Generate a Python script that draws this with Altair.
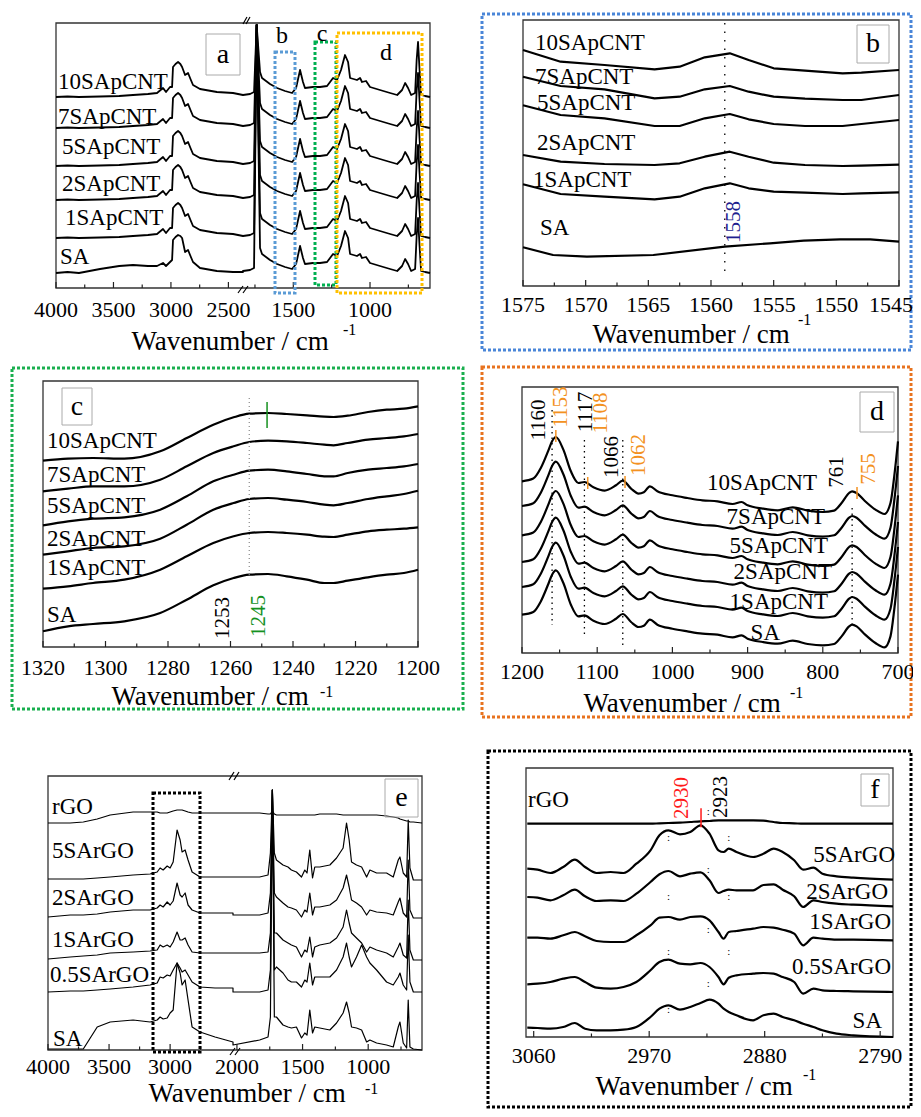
import altair as alt
import pandas as pd

FONT = "Liberation Serif, Times New Roman, serif"

# ================= Panel a : SA / SApCNT, full range (broken axis) =================
A_SERIES = ["SA", "1SApCNT", "2SApCNT", "5SApCNT", "7SApCNT", "10SApCNT"]
A_OFFSET = [15, 50, 88, 122, 160, 191]
A_LEFT_WN = [4000, 3900, 3800, 3617, 3450, 3330, 3200, 3121, 3069, 3043, 3008, 2990, 2982,
             2960, 2938, 2918, 2903, 2877, 2851, 2830, 2808, 2747, 2600, 2460, 2373]
A_LEFT_CNT = [0, 0.5, 0, 0.5, 1, 2, 3, 4, 9, 5, 10, 10, 30, 33, 35, 33, 30, 22, 24, 18, 12, 8, 5, 4, 2]
A_LEFT_SA = [0, 1, 0, 4, 7, 8, 7, 7, 10, 7, 11, 13, 33, 36, 38, 37, 35, 21, 23, 17, 11, 5, 2, 1, 1]
A_RIGHT_WN = [1828, 1782, 1756, 1717, 1704, 1652, 1606, 1554, 1508, 1482, 1456, 1437, 1424, 1372,
              1326, 1280, 1241, 1215, 1189, 1163, 1143, 1130, 1085, 1065, 1052, 1026, 1000, 935,
              869, 823, 791, 771, 752, 732, 706, 696, 687, 677, 667, 641, 609]
A_RIGHT = [2, 3, 5, 25, 19, 13, 9, 6, 4, 9, 27, 15, 9, 10, 10, 11, 19, 17, 27, 42, 35, 19, 17, 19,
           15, 16, 10, 7, 4, 2, 7, 14, 9, 2, 4, 37, 55, 27, 2, 1, 0]
A_CO_WN = 1739
A_CO_PEAK = [248, 213, 175, 141, 103, 72]
A_TICKS = [4000, 3500, 3000, 2500, 1500, 1000]
A_MINOR = [3750, 3250, 2750, 1750, 1250, 750]

# ================= Panel b : 1575-1545 =================
B_WN = [1575, 1572, 1568.5, 1564.5, 1562.5, 1560.5, 1558.5, 1557, 1555, 1552.5, 1549.5, 1548, 1545]
B_10SAPCNT = [236, 224.3, 221, 216.7, 219.3, 228.7, 232.7, 226, 217.7, 215.3, 212.7, 213.3, 216]
B_7SAPCNT = [209.3, 200, 196.7, 187.7, 189.3, 196.7, 200, 194.3, 189.3, 187.3, 186, 186, 191]
B_5SAPCNT = [180.7, 171, 167.7, 160, 160, 167.7, 172, 166.7, 162, 160, 160, 162, 166]
B_2SAPCNT = [131, 124.3, 122, 121, 122.7, 129.3, 134.3, 129.3, 123.3, 121, 120, 120.3, 121.3]
B_1SAPCNT = [101.7, 92, 89.3, 86.7, 89.3, 97.7, 102.7, 97.7, 94.3, 93.3, 92, 92.7, 93.7]
B_SA_WN = [1575, 1572.6, 1569.9, 1564.6, 1558.9, 1555.3, 1552.6, 1549.7, 1547.3, 1545]
B_SA = [38.7, 31, 29.3, 31, 39.3, 42.7, 45.3, 46.7, 46.7, 44.3]
B_GUIDE_WN = [1558.9]
B_GUIDE_H = [263, 13]
B_TICKS = [1575, 1570, 1565, 1560, 1555, 1550, 1545]
B_MINOR = [1572.5, 1567.5, 1562.5, 1557.5, 1552.5, 1547.5]

# ================= Panel c : 1320-1200 =================
C_WN = [1320, 1312, 1304, 1294, 1282.5, 1274, 1265.5, 1259, 1254, 1248, 1242, 1235.5, 1230,
        1227, 1222.5, 1216, 1210, 1204.5, 1200]
C_10SAPCNT = [186.3, 188.3, 189, 188.3, 195.7, 209, 222.3, 229.7, 233.3, 234, 233, 231.7, 230.3,
              230, 231.3, 235, 237.3, 238.3, 240.7]
C_7SAPCNT = [155.7, 158.3, 160.7, 160.7, 167.3, 180.7, 194, 200.7, 205, 206.3, 205.7, 204, 202.3,
             201.7, 204, 207.3, 209, 210.7, 213]
C_5SAPCNT = [121.7, 125.7, 128.3, 129.7, 137.3, 150.7, 165.7, 172.3, 176.3, 177.3, 175.7, 173,
             170.7, 170.7, 174, 177.3, 179, 180.7, 183]
C_2SAPCNT = [92.3, 95.7, 99, 100.7, 108.3, 122.3, 137.3, 144, 148, 149, 147.3, 145, 142.3, 141.7,
             144, 148, 150.7, 153, 156.3]
C_1SAPCNT = [58.3, 60.7, 64, 67.3, 77.3, 90.7, 104, 110.7, 114, 115, 114, 112.3, 110.3, 110,
             112.3, 115.7, 117.3, 118.3, 119.7]
C_SA = [15.7, 20.7, 23, 25.7, 34, 47.3, 61.7, 69, 72.3, 73, 70.7, 67.3, 64, 64, 66.3, 69.7, 72.3,
        74, 77.3]
C_GUIDE_WN = [1254]
C_GUIDE_H = [249, 72]
C_MARK_WN = [1248.3]
C_MARK_H = [219, 245]
C_TICKS = [1320, 1300, 1280, 1260, 1240, 1220, 1200]
C_MINOR = [1310, 1290, 1270, 1250, 1230, 1210]

# ================= Panel d : 1200-700 =================
D_SERIES = ["SA", "1SApCNT", "2SApCNT", "5SApCNT", "7SApCNT", "10SApCNT"]
D_OFFSET = [38.3, 66, 91, 117.7, 147, 171.7]
D_WN = [1200, 1185, 1175, 1165, 1160, 1155, 1145, 1135, 1125, 1117, 1105, 1090, 1075, 1066, 1055,
        1045, 1038, 1030, 1020, 1000, 980, 960, 940, 920, 908, 900, 880, 860, 840, 820, 800, 785,
        775, 765, 761, 755, 745, 730, 718, 710, 705, 700]
D_PROFILE = [0, 2.7, 13.3, 30.7, 40, 44.3, 31.7, 10, -1.7, -0.7, -6, -9.3, -4, 0.7, -7.3, -12.3,
             -11, -5, -10, -14, -16.7, -19, -20, -22.7, -20.7, -24, -27.3, -29, -26, -29.3, -30.7,
             -29.3, -21.7, -11.7, -10, -11.7, -19, -28.3, -32.7, -21.7, 5, 40]
D_GUIDE_WN = [1160, 1117, 1066, 761]
D_GUIDE_H0 = [243, 213, 213, 145]
D_GUIDE_H1 = [28, 18, 8, 25]
D_MARK_WN = [1155, 1112.6, 1063, 754.5]
D_MARK_H0 = [211, 164, 165, 154]
D_MARK_H1 = [223, 176, 177, 166]
D_TICKS = [1200, 1100, 1000, 900, 800, 700]
D_MINOR = [1150, 1050, 950, 850, 750]

# ================= Panel e : SA / SArGO full range (broken axis) =================
E_WN = [4000, 3818, 3711, 3597, 3491, 3303, 3164, 3106, 3082, 3057, 3024, 3000, 2975, 2943, 2918,
        2902, 2877, 2853, 2820, 2755, 2632, 2485,
        2030, 1827, 1763, 1745, 1730, 1715, 1699, 1649, 1611, 1585, 1547, 1508, 1483, 1466, 1445,
        1424, 1407, 1369, 1292, 1241, 1191, 1165, 1145, 1127, 1089, 1050, 1012, 987, 936, 860,
        809, 771, 758, 733, 707, 695, 682, 656, 590]
E_RGO = [227, 227, 228, 231, 235, 238, 238, 238, 237, 237, 237, 238, 239, 240, 240, 240, 239, 238,
         237, 237, 237, 237,
         237, 237, 236, 236, 239, 236, 235, 235, 235, 235, 235, 235, 235, 235, 235, 235, 235, 236,
         236, 236, 235, 235, 235, 235, 235, 235, 235, 235, 235, 234, 233, 232, 231, 230, 229, 229,
         228, 228, 227]
E_5SARGO = [171, 171, 171, 172, 173, 175, 176, 178, 182, 180, 184, 182, 188, 220, 210, 198, 200,
            190, 178, 173, 173, 173,
            173, 173, 175, 197, 260, 197, 190, 185, 183, 180, 178, 173, 180, 177, 200, 172, 183,
            183, 185, 192, 202, 227, 210, 188, 185, 183, 173, 180, 177, 177, 173, 190, 193, 177,
            173, 230, 182, 170, 170]
E_2SARGO = [133, 135, 135, 136, 138, 140, 140, 142, 145, 143, 148, 145, 149, 167, 155, 153, 157,
            145, 140, 137, 137, 137,
            135, 135, 137, 157, 260, 157, 153, 147, 143, 142, 140, 133, 140, 138, 157, 135, 143,
            143, 145, 150, 162, 175, 163, 150, 147, 143, 135, 140, 138, 137, 135, 148, 152, 137,
            133, 190, 140, 132, 132]
E_1SARGO = [91, 93, 94, 95, 97, 98, 99, 100, 105, 103, 105, 103, 108, 118, 110, 110, 112, 105, 98,
            97, 97, 97,
            97, 97, 98, 117, 260, 117, 117, 110, 107, 105, 103, 93, 100, 98, 113, 93, 103, 105,
            107, 112, 123, 140, 127, 117, 112, 107, 98, 103, 100, 97, 93, 103, 107, 95, 92, 150,
            100, 90, 90]
E_05SARGO = [58, 59, 59, 60, 61, 63, 65, 67, 73, 72, 75, 74, 80, 87, 82, 78, 80, 75, 68, 63, 62, 62,
             58, 58, 60, 80, 260, 80, 83, 77, 70, 68, 68, 63, 70, 68, 87, 65, 73, 73, 73, 80, 93,
             107, 93, 83, 93, 105, 93, 87, 80, 68, 65, 73, 77, 65, 60, 115, 68, 58, 58]
E_SA = [1, 1, 1, 23, 28, 30, 28, 30, 33, 31, 32, 37, 40, 87, 77, 65, 70, 50, 23, 18, 13, 8,
        5, 10, 13, 33, 260, 33, 33, 25, 23, 22, 23, 12, 17, 15, 40, 17, 23, 22, 20, 27, 37, 48,
        37, 23, 22, 20, 8, 10, 7, 5, 3, 23, 28, 7, 2, 50, 3, 1, 0]
E_TICKS = [4000, 3500, 3000, 2000, 1500, 1000]
E_MINOR = [3750, 3250, 2750, 1750, 1250, 750]

# ================= Panel f : 3065-2780 =================
F_WN = [3065, 3057, 3047, 3037, 3028, 3020, 3011, 3000, 2990, 2980, 2969, 2962, 2955, 2946, 2938,
        2930, 2923, 2916, 2912, 2908, 2902, 2889, 2881, 2873, 2866, 2857, 2850, 2842, 2835, 2824,
        2811, 2780]
F_RGO = [213.3, 213.3, 213.3, 213.3, 213.3, 213.3, 213.3, 213.3, 213.3, 213.3, 213.3, 213.7, 214,
         214.3, 215, 215.7, 216, 216.7, 216.7, 216.7, 216.7, 216.7, 216.3, 215, 214, 213.7, 213.3,
         213.3, 213.3, 213.3, 213.3, 213.3]
F_5SARGO = [168.3, 167.3, 164, 170, 177.3, 170, 164, 165, 164, 173.3, 186.7, 201.7, 206.7, 202.7,
            205, 211.7, 203.3, 186.7, 185, 188.3, 185, 180, 183.3, 188.3, 185, 176.7, 167.3, 169.3,
            163.3, 160.7, 159.3, 157.3]
F_2SARGO = [140, 139.3, 136.7, 141.7, 147.3, 140.7, 136, 136.7, 136, 143.3, 155, 162.7, 166, 160.7,
            163.3, 164.7, 156.7, 144, 146, 147.3, 146.7, 146.7, 152, 152.7, 147.3, 140.7, 130,
            136.7, 135, 133.3, 132.3, 130.7]
F_1SARGO = [99.3, 99.3, 98.3, 101.7, 105, 100.7, 96, 95, 95, 101.7, 111.7, 119.3, 120, 117.3, 120,
            120.7, 116.7, 105, 98.3, 105, 106, 108.3, 110, 109.3, 107.3, 103.3, 91.7, 99.3, 98.3,
            97.3, 97.3, 96.7]
F_05SARGO = [52.7, 53.3, 55, 58.3, 60, 55, 49.3, 48.3, 50, 55, 66.7, 75, 77.3, 73.3, 72.7, 74, 70,
             60, 52.7, 59.3, 61.7, 63.3, 64, 63.3, 60, 55, 43.3, 48.3, 46.7, 46, 45.7, 45]
F_SA = [9.3, 9, 8.3, 10, 14, 8.3, 6.7, 6.7, 7.3, 10, 20, 28.3, 31.7, 27.3, 30, 34, 37.3, 33.3, 28.3,
        25, 21.7, 16.7, 21.7, 23.3, 20, 16.7, 13.3, 10, 6.7, 3.3, 1.7, 0]
F_DOT_WN = [2924, 2955, 2908, 2924, 2955, 2908, 2924, 2955, 2908, 2924, 2955]
F_DOT_H = [225, 199, 199, 167, 140, 140, 107, 85, 85, 53, 27]
F_MARK_WN = [2929.6]
F_MARK_H = [209.7, 228.7]
F_TICKS = [3060, 2970, 2880, 2790]
F_MINOR = [3015, 2925, 2835]


# ---------------------------------------------------------------------------
def long_df(wn, series):
    rows = []
    for name, vals in series.items():
        for w, v in zip(wn, vals):
            rows.append({"series": name, "wn": w, "h": v})
    return pd.DataFrame(rows)


ONE = pd.DataFrame({"k": [0]})


def label(t, x, y, size=23, color="black", align="left", angle=0, baseline="middle"):
    mk = dict(font=FONT, fontSize=size, color=color, align=align, baseline=baseline)
    if angle:
        mk["angle"] = angle
    return alt.Chart(ONE).mark_text(**mk).encode(
        x=alt.value(x), y=alt.value(y), text=alt.value(t))


def box(x0, y0, x1, y1, color, sw=1.0, dash=None):
    mk = dict(fill="transparent", stroke=color, strokeWidth=sw)
    if dash:
        mk["strokeDash"] = dash
    return alt.Chart(ONE).mark_rect(**mk).encode(
        x=alt.value(x0), x2=alt.value(x1), y=alt.value(y0), y2=alt.value(y1))


def seg(x0, y0, x1, y1, color="black", sw=1.2):
    return alt.Chart(ONE).mark_rule(color=color, strokeWidth=sw).encode(
        x=alt.value(x0), x2=alt.value(x1), y=alt.value(y0), y2=alt.value(y1))


def vrules(wn, h0, h1, xs, ys, color, sw, dash=None):
    df = pd.DataFrame({"wn": wn, "h0": h0, "h1": h1})
    mk = dict(color=color, strokeWidth=sw)
    if dash:
        mk["strokeDash"] = dash
    return alt.Chart(df).mark_rule(**mk).encode(
        x=alt.X("wn:Q", scale=xs, axis=None),
        y=alt.Y("h0:Q", scale=ys, axis=None),
        y2="h1:Q")


def panel(df, xs, ys, sw, interp, ticks, minor, bottom, label_y, extras=(), edge_label=None):
    def X():
        return alt.X("wn:Q", scale=xs, axis=None)
    lines = alt.Chart(df).mark_line(color="black", strokeWidth=sw, interpolate=interp,
                                    strokeJoin="round").encode(
        x=X(), y=alt.Y("h:Q", scale=ys, axis=None), detail="series:N")
    tdf = pd.DataFrame({"wn": ticks, "lab": [str(t) for t in ticks]})
    major = alt.Chart(tdf).mark_rule(color="#222", strokeWidth=1.2).encode(
        x=X(), y=alt.value(bottom), y2=alt.value(bottom - 6))
    mdf = pd.DataFrame({"wn": minor})
    minr = alt.Chart(mdf).mark_rule(color="#222", strokeWidth=1.2).encode(
        x=X(), y=alt.value(bottom), y2=alt.value(bottom - 3.5))
    ldf = tdf if edge_label is None else tdf[tdf["wn"] != edge_label]
    labs = alt.Chart(ldf).mark_text(font=FONT, fontSize=22, baseline="middle",
                                    color="black").encode(
        x=X(), y=alt.value(label_y), text="lab:N")
    out = [lines, major, minr, labs]
    if edge_label is not None:
        edf = tdf[tdf["wn"] == edge_label]
        out.append(alt.Chart(edf).mark_text(font=FONT, fontSize=22, baseline="middle",
                                            align="right", color="black").encode(
            x=alt.value(905), y=alt.value(label_y), text="lab:N"))
    return alt.layer(*out, *extras)


def title(cx, base, sx, sy):
    return [label("Wavenumber / cm", cx, base, size=27, align="center", baseline="alphabetic"),
            label("-1", sx, sy, size=16, align="left")]


# ---------------- build data frames ----------------
rows = []
for s, off, co in zip(A_SERIES, A_OFFSET, A_CO_PEAK):
    left = A_LEFT_SA if s == "SA" else A_LEFT_CNT
    for w, v in zip(A_LEFT_WN, left):
        rows.append({"series": s, "wn": w, "h": off + v})
    for w, v in zip(A_RIGHT_WN, A_RIGHT):
        rows.append({"series": s, "wn": w, "h": off + v})
    rows.append({"series": s, "wn": A_CO_WN, "h": off + co})
a_df = pd.DataFrame(rows)

b_df = pd.concat([
    long_df(B_WN, {"10SApCNT": B_10SAPCNT, "7SApCNT": B_7SAPCNT, "5SApCNT": B_5SAPCNT,
                   "2SApCNT": B_2SAPCNT, "1SApCNT": B_1SAPCNT}),
    long_df(B_SA_WN, {"SA": B_SA})], ignore_index=True)

c_df = long_df(C_WN, {"10SApCNT": C_10SAPCNT, "7SApCNT": C_7SAPCNT, "5SApCNT": C_5SAPCNT,
                      "2SApCNT": C_2SAPCNT, "1SApCNT": C_1SAPCNT, "SA": C_SA})

rows = []
for s, off in zip(D_SERIES, D_OFFSET):
    for w, v in zip(D_WN, D_PROFILE):
        rows.append({"series": s, "wn": w, "h": off + v})
d_df = pd.DataFrame(rows)

e_df = long_df(E_WN, {"rGO": E_RGO, "5SArGO": E_5SARGO, "2SArGO": E_2SARGO, "1SArGO": E_1SARGO,
                      "0.5SArGO": E_05SARGO, "SA": E_SA})
f_df = long_df(F_WN, {"rGO": F_RGO, "5SArGO": F_5SARGO, "2SArGO": F_2SARGO, "1SArGO": F_1SARGO,
                      "0.5SArGO": F_05SARGO, "SA": F_SA})

# ---------------- scales (pixel ranges place each panel) ----------------
A_X = alt.Scale(domain=[4000, 2373, 1828, 609], range=[48, 235, 235, 422], nice=False, zero=False)
A_Y = alt.Scale(domain=[0, 265], range=[280, 15], nice=False, zero=False)
B_X = alt.Scale(domain=[1575, 1545], range=[515, 891], nice=False, zero=False)
B_Y = alt.Scale(domain=[0, 266], range=[278, 12], nice=False, zero=False)
C_X = alt.Scale(domain=[1320, 1200], range=[35, 410], nice=False, zero=False)
C_Y = alt.Scale(domain=[0, 266], range=[639, 373], nice=False, zero=False)
D_X = alt.Scale(domain=[1200, 700], range=[514, 890], nice=False, zero=False)
D_Y = alt.Scale(domain=[0, 266], range=[645, 379], nice=False, zero=False)
E_X = alt.Scale(domain=[4000, 2485, 2030, 590], range=[40, 225, 225, 414], nice=False, zero=False)
E_Y = alt.Scale(domain=[0, 274], range=[1042, 768], nice=False, zero=False)
F_X = alt.Scale(domain=[3066, 2780], range=[518, 885], nice=False, zero=False)
F_Y = alt.Scale(domain=[0, 269], range=[1029, 760], nice=False, zero=False)

ORANGE = "#f39121"

layers = []
# dotted panel borders
layers += [
    box(474, 6, 903, 342, "#4a86d8", 3, [3, 2]),
    box(4, 360, 455, 701, "#1aaf4f", 3, [3, 2]),
    box(474, 359, 903, 709, "#e8731f", 3, [3, 2]),
    box(480, 743, 903, 1099, "black", 3, [3, 2]),
]
# plot frames
for fr in [(48, 15, 422, 280), (515, 12, 891, 278), (35, 373, 410, 639),
           (514, 379, 890, 645), (40, 768, 414, 1042), (518, 760, 885, 1029)]:
    layers.append(box(*fr, "#333", 1.3))

# panels
layers.append(panel(a_df, A_X, A_Y, 1.8, "linear", A_TICKS, A_MINOR, 280, 302))
layers.append(panel(b_df, B_X, B_Y, 2.2, "linear", B_TICKS, B_MINOR, 278, 297, extras=[
    vrules(B_GUIDE_WN, [B_GUIDE_H[0]], [B_GUIDE_H[1]], B_X, B_Y, "black", 1.3, [1.5, 7])],
    edge_label=1545))
layers.append(panel(c_df, C_X, C_Y, 2.2, "monotone", C_TICKS, C_MINOR, 639, 660, extras=[
    vrules(C_GUIDE_WN, [C_GUIDE_H[0]], [C_GUIDE_H[1]], C_X, C_Y, "#888", 1.2, [1, 3]),
    vrules(C_MARK_WN, [C_MARK_H[0]], [C_MARK_H[1]], C_X, C_Y, "#15911f", 1.5)]))
layers.append(panel(d_df, D_X, D_Y, 2.2, "monotone", D_TICKS, D_MINOR, 645, 664, extras=[
    vrules(D_GUIDE_WN, D_GUIDE_H0, D_GUIDE_H1, D_X, D_Y, "black", 1.3, [1.5, 4]),
    vrules(D_MARK_WN, D_MARK_H0, D_MARK_H1, D_X, D_Y, ORANGE, 1.5)]))
layers.append(panel(e_df, E_X, E_Y, 1.2, "linear", E_TICKS, E_MINOR, 1042, 1059))
f_dots = alt.Chart(pd.DataFrame({"wn": F_DOT_WN, "h": F_DOT_H})).mark_text(
    font=FONT, fontSize=11, color="black", baseline="middle").encode(
    x=alt.X("wn:Q", scale=F_X, axis=None), y=alt.Y("h:Q", scale=F_Y, axis=None),
    text=alt.value(":"))
layers.append(panel(f_df, F_X, F_Y, 2.2, "monotone", F_TICKS, F_MINOR, 1029, 1048, extras=[
    f_dots, vrules(F_MARK_WN, [F_MARK_H[0]], [F_MARK_H[1]], F_X, F_Y, "#ff1a1a", 1.5)]))

# highlight boxes in a and e
layers += [
    box(267, 44, 287, 285, "#5b9bd5", 3, [3, 2]),
    box(307, 34, 328, 277, "#00b050", 3, [3, 2]),
    box(329, 25, 414, 285, "#ffc000", 3, [3, 2]),
    box(145, 785, 192, 1044, "black", 3, [3, 2]),
    label("b", 274, 28, 24, align="center"),
    label("c", 314, 26, 24, align="center"),
    label("d", 378, 45, 24, align="center"),
]
# axis-break marks
layers += [
    seg(235, 16, 239, 9), seg(238, 16, 242, 9),
    seg(230, 285, 235, 278), seg(235, 285, 240, 278),
    seg(221, 772, 226, 764), seg(226, 772, 231, 764),
    seg(222, 1047, 227, 1040), seg(227, 1047, 232, 1040),
]
# panel letters
for (x0, y0, x1, y1, t) in [(198, 26, 232, 67, "a"), (849, 17, 881, 55, "b"),
                            (54, 380, 84, 417, "c"), (852, 384, 886, 424, "d"),
                            (377, 771, 410, 809, "e"), (853, 766, 881, 798, "f")]:
    layers.append(box(x0, y0, x1, y1, "#aaa", 1))
    layers.append(label(t, (x0 + x1) / 2, (y0 + y1) / 2, 28, align="center"))

# series labels
for t, x, y in [("10SApCNT", 50, 74), ("7SApCNT", 50, 109), ("5SApCNT", 54, 139),
                ("2SApCNT", 54, 176), ("1SApCNT", 57, 210), ("SA", 52, 249),
                ("10SApCNT", 527, 35), ("7SApCNT", 527, 69), ("5SApCNT", 529, 95),
                ("2SApCNT", 529, 135), ("1SApCNT", 525, 172), ("SA", 532, 220),
                ("10SApCNT", 39, 433), ("7SApCNT", 39, 467), ("5SApCNT", 39, 498),
                ("2SApCNT", 39, 531), ("1SApCNT", 39, 560), ("SA", 39, 607),
                ("rGO", 44, 799), ("5SArGO", 44, 843), ("2SArGO", 44, 890),
                ("1SArGO", 44, 932), ("0.5SArGO", 42, 967), ("SA", 45, 1031),
                ("rGO", 520, 792)]:
    layers.append(label(t, x, y))
for t, x, y in [("10SApCNT", 809, 475), ("7SApCNT", 817, 509), ("5SApCNT", 820, 538),
                ("2SApCNT", 824, 564), ("1SApCNT", 820, 594), ("SA", 772, 625),
                ("5SArGO", 887, 847), ("2SArGO", 880, 884), ("1SArGO", 883, 914),
                ("0.5SArGO", 883, 959), ("SA", 874, 1013)]:
    layers.append(label(t, x, y, align="right"))

# peak annotations (rotated)
for t, x, y, col in [("1558", 726, 214, "#1f1f8f"),
                     ("1253", 215, 610, "black"), ("1245", 251, 608, "#15911f"),
                     ("1160", 531, 412, "black"), ("1153", 553, 399, ORANGE),
                     ("1117", 578, 404, "black"), ("1108", 593, 405, ORANGE),
                     ("1066", 604, 449, "black"), ("1062", 631, 447, ORANGE),
                     ("761", 829, 464, "black"), ("755", 861, 461, ORANGE),
                     ("2930", 674, 790, "#ff1a1a"), ("2923", 713, 789, "black")]:
    layers.append(label(t, x, y, 21, color=col, align="center", angle=270))

# axis titles
layers += title(222, 342, 335, 322)
layers += title(683, 335, 790, 312)
layers += title(202, 697, 312, 684)
layers += title(674, 704, 782, 685)
layers += title(239, 1094, 357, 1081)
layers += title(686, 1087, 795, 1067)

chart = alt.layer(*layers).resolve_scale(x="independent", y="independent").properties(
    width=905, height=1101, autosize=alt.AutoSizeParams(type="none"), padding=0,
    background="white").configure_view(strokeWidth=0)

chart.save("out.html", embed_options={"renderer": "svg", "actions": False})
